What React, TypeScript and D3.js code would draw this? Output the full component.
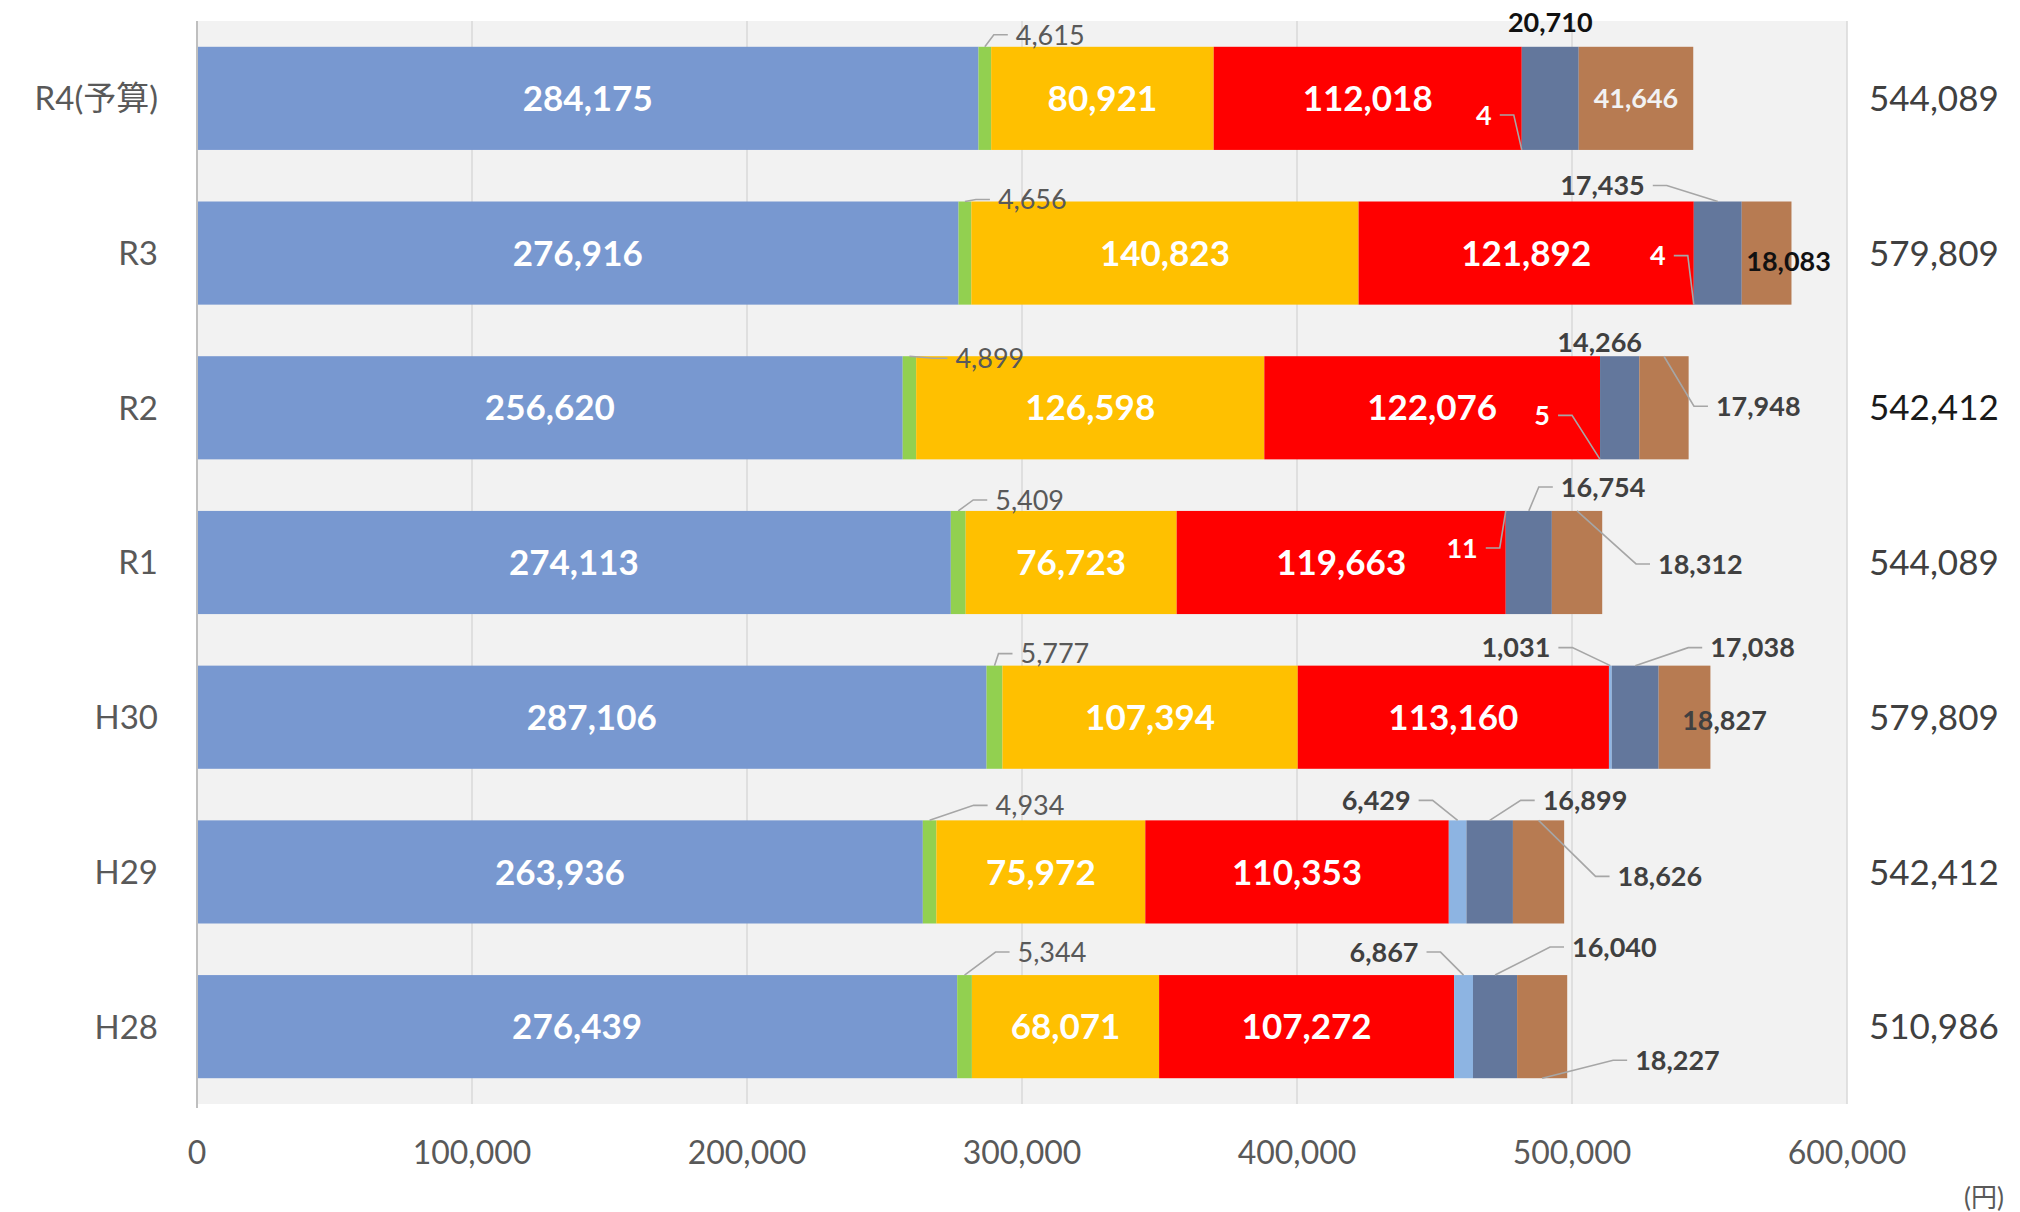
import React from "react";
import * as d3 from "d3";

// categories (top to bottom) and the seven stacked series
const categories = ["R4(予算)", "R3", "R2", "R1", "H30", "H29", "H28"];

const seriesKeys = ["s1", "s2", "s3", "s4", "s5", "s6", "s7"];
const s1Values = [284175, 276916, 256620, 274113, 287106, 263936, 276439];
const s2Values = [4615, 4656, 4899, 5409, 5777, 4934, 5344];
const s3Values = [80921, 140823, 126598, 76723, 107394, 75972, 68071];
const s4Values = [112018, 121892, 122076, 119663, 113160, 110353, 107272];
const s5Values = [4, 4, 5, 11, 1031, 6429, 6867];
const s6Values = [20710, 17435, 14266, 16754, 17038, 16899, 16040];
const s7Values = [41646, 18083, 17948, 18312, 18827, 18626, 18227];
const seriesValues = [s1Values, s2Values, s3Values, s4Values, s5Values, s6Values, s7Values];

// totals as printed at the right of each bar
const totalLabels = ["544,089", "579,809", "542,412", "544,089", "579,809", "542,412", "510,986"];

const xTicks = [0, 100000, 200000, 300000, 400000, 500000, 600000];
const unitLabel = "(円)";

const colors = ["#7898D0", "#92D050", "#FFC000", "#FF0000", "#8DB4E2", "#63779C", "#B77B52"];

const FONT = "Lato, 'Noto Sans CJK JP', sans-serif";

type Tone = "white" | "whiteSmall" | "light" | "gray" | "dark" | "black";
interface Place {
  kind: "in" | "callout" | "free";
  edge?: "top" | "bottom" | "mid";
  dx?: number;
  dy?: number;
  align?: "start" | "end" | "middle";
  tone: Tone;
}

const inside: Place = { kind: "in", tone: "white" };
const greenCall = (dx: number, dy: number): Place => ({ kind: "callout", edge: "top", dx, dy, align: "start", tone: "gray" });
const call = (edge: "top" | "bottom", align: "start" | "end", dx: number, dy: number, tone: Tone = "dark"): Place => ({ kind: "callout", edge, align, dx, dy, tone });
const free = (edge: "top" | "mid", dx: number, dy: number, tone: Tone): Place => ({ kind: "free", edge, dx, dy, align: "middle", tone });

// label placement (layout only), per series then per category
const labelLayout: Place[][] = [
  categories.map(() => inside),
  [greenCall(31, -12), greenCall(33, -2), greenCall(46, 2), greenCall(37, -11), greenCall(26, -12), greenCall(66, -15), greenCall(53, -23)],
  categories.map(() => inside),
  categories.map(() => inside),
  [
    call("bottom", "end", -30, -35, "whiteSmall"),
    call("bottom", "end", -28, -49, "whiteSmall"),
    call("bottom", "end", -50, -44, "whiteSmall"),
    call("top", "end", -28, 37, "whiteSmall"),
    call("top", "end", -60, -18),
    call("top", "end", -47, -20),
    call("top", "end", -45, -23),
  ],
  [
    free("top", 0, -25, "black"),
    call("top", "end", -73, -16),
    free("top", -20, -14, "dark"),
    call("top", "start", 32, -24),
    call("top", "start", 75, -18),
    call("top", "start", 53, -20),
    call("top", "start", 77, -28),
  ],
  [
    { kind: "in", tone: "light" },
    free("mid", 22, 8, "black"),
    call("top", "start", 52, 50),
    call("top", "start", 81, 53),
    free("mid", 40, 3, "dark"),
    call("top", "start", 79, 56),
    call("bottom", "start", 93, -18),
  ],
];

const toneStyle: Record<Tone, { fill: string; weight: number; size: number }> = {
  white: { fill: "#FFFFFF", weight: 700, size: 35 },
  whiteSmall: { fill: "#FFFFFF", weight: 700, size: 27 },
  light: { fill: "#F2F2F2", weight: 700, size: 27 },
  gray: { fill: "#595959", weight: 400, size: 27 },
  dark: { fill: "#404040", weight: 700, size: 27 },
  black: { fill: "#111111", weight: 700, size: 27 },
};

export default function App() {
  const width = 2020;
  const height = 1212;
  const plot = { left: 197, right: 1847, top: 21, bottom: 1104 };

  const x = d3.scaleLinear().domain([0, 600000]).range([plot.left, plot.right]);
  const y = d3
    .scaleBand<string>()
    .domain(categories)
    .range([plot.top, plot.bottom])
    .paddingInner(1 / 3)
    .paddingOuter(1 / 6);
  const bw = y.bandwidth();

  const rows = categories.map((c, i) => {
    const r: Record<string, any> = { cat: c };
    seriesKeys.forEach((k, j) => (r[k] = seriesValues[j][i]));
    return r;
  });
  const stacked = d3.stack<Record<string, any>>().keys(seriesKeys)(rows);
  const fmt = d3.format(",");

  const gap = 8;
  const stub = 14;

  const labels: React.ReactNode[] = [];
  const leaders: React.ReactNode[] = [];

  stacked.forEach((layer, si) => {
    layer.forEach((d, ci) => {
      const place = labelLayout[si][ci];
      const cat = categories[ci];
      const x0 = x(d[0]);
      const x1 = x(d[1]);
      const top = y(cat)!;
      const ax = (x0 + x1) / 2;
      const st = toneStyle[place.tone];
      const text = fmt(seriesValues[si][ci]);
      let tx = ax;
      let ty = top + bw / 2;
      let anchor: "start" | "end" | "middle" = "middle";
      if (place.kind !== "in") {
        const ay = place.edge === "top" ? top : place.edge === "bottom" ? top + bw : top + bw / 2;
        tx = ax + (place.dx ?? 0);
        ty = ay + (place.dy ?? 0);
        anchor = place.align ?? "middle";
        if (place.kind === "callout") {
          const sgn = anchor === "end" ? 1 : -1;
          const pts: [number, number][] = [
            [ax, ay],
            [tx + sgn * (gap + stub), ty],
            [tx + sgn * gap, ty],
          ];
          leaders.push(
            <path
              key={`l-${si}-${ci}`}
              d={d3.line()(pts) ?? ""}
              fill="none"
              stroke="#A6A6A6"
              strokeWidth={1.6}
            />
          );
        }
      }
      labels.push(
        <text
          key={`t-${si}-${ci}`}
          x={tx}
          y={ty}
          dy="0.36em"
          textAnchor={anchor}
          fill={st.fill}
          fontWeight={st.weight}
          fontSize={st.size}
        >
          {text}
        </text>
      );
    });
  });

  return (
    <svg
      width={width}
      height={height}
      style={{ position: "absolute", left: 0, top: 0, background: "#FFFFFF" }}
      fontFamily={FONT}
    >
      <rect x={plot.left} y={plot.top} width={plot.right - plot.left} height={plot.bottom - plot.top} fill="#F2F2F2" />
      {xTicks.slice(1).map((t) => (
        <line key={t} x1={x(t)} x2={x(t)} y1={plot.top} y2={plot.bottom} stroke="#D9D9D9" strokeWidth={1.5} />
      ))}

      {stacked.map((layer, si) => (
        <g key={layer.key} fill={colors[si]}>
          {layer.map((d, ci) => (
            <rect
              key={ci}
              x={x(d[0])}
              y={y(categories[ci])}
              width={Math.max(0, x(d[1]) - x(d[0]))}
              height={bw}
            />
          ))}
        </g>
      ))}

      <line x1={plot.left} x2={plot.left} y1={plot.top} y2={plot.bottom + 4} stroke="#BFBFBF" strokeWidth={2} />

      {leaders}
      {labels}

      {categories.map((c) => (
        <text
          key={c}
          x={plot.left - 39}
          y={y(c)! + bw / 2}
          dy="0.36em"
          textAnchor="end"
          fontSize={33}
          fill="#595959"
        >
          {c}
        </text>
      ))}

      {totalLabels.map((t, i) => (
        <text
          key={i}
          x={plot.right + 22}
          y={y(categories[i])! + bw / 2}
          dy="0.36em"
          textAnchor="start"
          fontSize={35}
          fill={i === 2 ? "#1A1A1A" : "#404040"}
        >
          {t}
        </text>
      ))}

      {xTicks.map((t) => (
        <text key={t} x={x(t)} y={1152} dy="0.36em" textAnchor="middle" fontSize={32} fill="#595959">
          {fmt(t)}
        </text>
      ))}

      <text x={width - 16} y={1207} textAnchor="end" fontSize={26} fill="#595959">
        {unitLabel}
      </text>
    </svg>
  );
}
